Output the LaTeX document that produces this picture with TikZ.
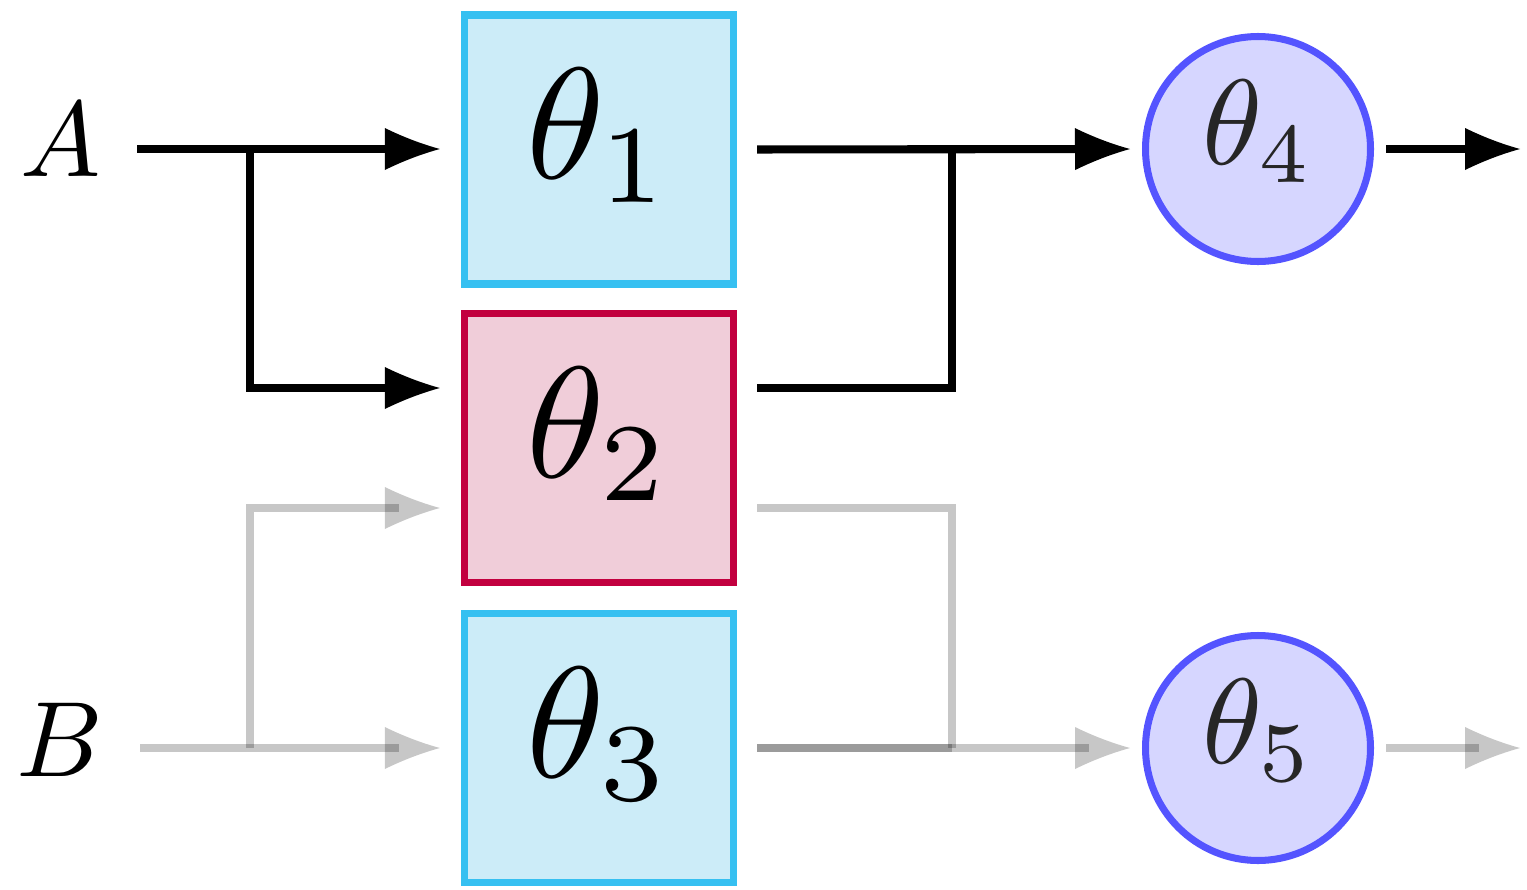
\documentclass[tikz,border=0pt]{standalone}
\usepackage{graphicx}
\usepackage{tikz}
\usetikzlibrary{arrows.meta, positioning, calc}
\usepackage{xcolor}
\definecolor{boxfill}{HTML}{CCECF8}
\definecolor{boxline}{HTML}{36C0F1}
\definecolor{hotfill}{HTML}{F0CDD9}
\definecolor{hotline}{HTML}{C2003F}
\definecolor{outfill}{HTML}{D6D6FF}
\definecolor{outline}{HTML}{5454FF}
\newcommand{\bigmath}[2]{\scalebox{#1}{$#2$}}
% filled tip with hollow sides
\pgfdeclarearrow{
  name = Fin,
  parameters = {\the\pgfarrowlength,\the\pgfarrowwidth},
  setup code = {
    \pgfarrowssettipend{\pgfarrowlength}
    \pgfarrowssetbackend{0pt}
    \pgfarrowssetlineend{.25\pgfarrowlength}
    \pgfarrowssavethe\pgfarrowlength
    \pgfarrowssavethe\pgfarrowwidth
  },
  drawing code = {
    \pgfpathmoveto{\pgfpoint{\pgfarrowlength}{0pt}}
    \pgfpathquadraticcurveto{\pgfpoint{.5\pgfarrowlength}{.18\pgfarrowwidth}}{\pgfpoint{0pt}{.5\pgfarrowwidth}}
    \pgfpathlineto{\pgfpoint{0pt}{-.5\pgfarrowwidth}}
    \pgfpathquadraticcurveto{\pgfpoint{.5\pgfarrowlength}{-.18\pgfarrowwidth}}{\pgfpoint{\pgfarrowlength}{0pt}}
    \pgfpathclose
    \pgfusepathqfill
  },
  defaults = {length=5.5mm, width=4.2mm}
}
\tikzset{
  layer/.style  = {draw=boxline, fill=boxfill, line width=2.1pt, minimum size=2.69cm,
                   inner sep=0pt},
  hot/.style    = {layer, draw=hotline, fill=hotfill},
  head/.style   = {circle, draw=outline, fill=outfill, line width=2pt, minimum size=2.25cm,
                   inner sep=0pt},
  boxtxt/.style = {yshift=0.14cm, inner sep=0pt},
  headtxt/.style= {yshift=0.18cm, inner sep=0pt, text=black!85},
  inp/.style    = {inner sep=0pt},
  wire/.style   = {line width=2.3pt, draw=black},
  flow/.style   = {wire, -{Fin[length=0.55cm, width=0.42cm]}},
  faded/.style  = {opacity=0.22}
}
\begin{document}
\begin{tikzpicture}
\useasboundingbox (0,0) rectangle (15.27,-8.89);
% blocks
\node[layer, label={[boxtxt]center:\bigmath{4.5}{\theta_1}}] (t1) at (5.99,-1.495) {};
\node[hot,   label={[boxtxt]center:\bigmath{4.5}{\theta_2}}] (t2) at (5.99,-4.48)  {};
\node[layer, label={[boxtxt]center:\bigmath{4.5}{\theta_3}}] (t3) at (5.99,-7.48)  {};
\node[head,  label={[headtxt]center:\bigmath{3.45}{\theta_4}}] (t4) at (12.58,-1.49) {};
\node[head,  label={[headtxt]center:\bigmath{3.45}{\theta_5}}] (t5) at (12.58,-7.48) {};
\node[inp]   (A)  at (0.61,-1.40)  {\bigmath{3.05}{A}};
\node[inp]   (B)  at (0.60,-7.40)  {\bigmath{3.05}{B}};
% loose ends and joints
\coordinate (ain)  at (1.37,-1.49);
\coordinate (asp)  at (2.50,-1.49);
\coordinate (bin)  at (1.40,-7.48);
\coordinate (bsp)  at (2.50,-7.48);
\coordinate (tj)   at (9.52,-1.49);
\coordinate (bj)   at (9.52,-7.48);
\coordinate (out4) at (15.20,-1.49);
\coordinate (out5) at (15.20,-7.48);
% active path
\draw[flow, shorten >=0.21cm] (ain) -- (ain -| t1.west);
\draw[flow, shorten >=0.21cm] (asp) |- ($(t2.west)+(0,0.6)$);
\draw[flow, shorten <=0.20cm, shorten >=0.12cm] (t1.east) -- (t4.west);
\draw[wire, shorten <=0.20cm] ($(t2.east)+(0,0.6)$) -| (tj);
\draw[flow, shorten <=0.12cm] (t4.east) -- (out4);
% inactive path
\draw[flow, faded, shorten >=0.21cm] (bin) -- (t3.west);
\draw[flow, faded, shorten >=0.21cm] (bsp) |- ($(t2.west)+(0,-0.6)$);
\draw[wire, faded, shorten <=0.20cm] ($(t2.east)+(0,-0.6)$) -| (bj);
\draw[wire, faded, shorten <=0.20cm] (t3.east) -- (bj);
\draw[flow, faded, shorten <=0.20cm, shorten >=0.12cm] (t3.east) -- (t5.west);
\draw[flow, faded, shorten <=0.12cm] (t5.east) -- (out5);
\end{tikzpicture}
\end{document}
